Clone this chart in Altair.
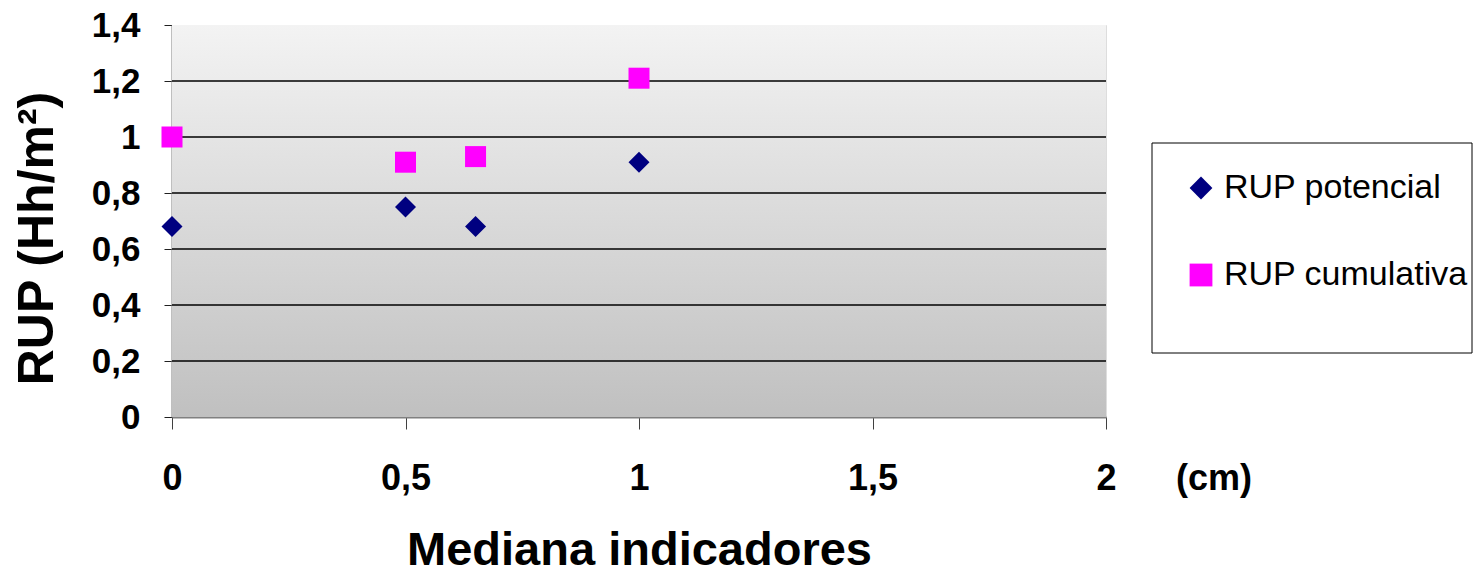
import altair as alt
import pandas as pd

# ---- data ----
x_vals = [0.0, 0.5, 0.65, 1.0]
rup_potencial = [0.68, 0.75, 0.68, 0.91]
rup_cumulativa = [1.00, 0.91, 0.93, 1.21]
series_names = ["RUP potencial", "RUP cumulativa"]
series_colors = ["#000080", "#ff00ff"]
series_shapes = ["diamond", "square"]
y_ticks = [0, 0.2, 0.4, 0.6, 0.8, 1.0, 1.2, 1.4]
x_ticks = [0, 0.5, 1.0, 1.5, 2.0]
grid_values = [0.2, 0.4, 0.6, 0.8, 1.0, 1.2]
x_title = "Mediana indicadores"
y_title = "RUP (Hh/m²)"
unit_label = "(cm)"

FONT = "Liberation Sans"
W, H = 934, 392

rows = []
for name, vals in zip(series_names, [rup_potencial, rup_cumulativa]):
    for xv, yv in zip(x_vals, vals):
        rows.append({"x": xv, "value": yv, "series": name})
df = pd.DataFrame(rows)

xscale = alt.Scale(domain=[0, 2], nice=False, zero=False)
yscale = alt.Scale(domain=[0, 1.4], nice=False)

comma_expr = "replace(toString(datum.value), '.', ',')"

xaxis = alt.Axis(
    values=x_ticks, labelExpr=comma_expr, grid=False, labelFlush=False,
    labelFont=FONT, labelFontSize=36, labelFontWeight="bold", labelColor="black",
    labelBaseline="alphabetic", labelPadding=60, tickSize=12, tickColor="#404040",
    domainColor="#808080", domainWidth=2,
    title=x_title, titleFont=FONT, titleFontSize=47, titleFontWeight="bold",
    titleColor="black", titleBaseline="alphabetic", titleY=147, titleX=W / 2,
)
yaxis = alt.Axis(
    values=y_ticks, labelExpr=comma_expr, grid=False, labelFlush=False,
    labelFont=FONT, labelFontSize=35, labelFontWeight="bold", labelColor="black",
    labelPadding=24, tickSize=8, tickColor="#202020",
    domainColor="#808080", domainWidth=2,
    title=y_title, titleFont=FONT, titleFontSize=50, titleFontWeight="bold",
    titleColor="black", titleBaseline="alphabetic", titleX=-120, titleY=213,
    titleAngle=270,
)

gradient = alt.LinearGradient(
    gradient="linear",
    stops=[alt.GradientStop(offset=0, color="#f3f3f3"),
           alt.GradientStop(offset=1, color="#c0c0c0")],
    x1=0, x2=0, y1=0, y2=1,
)

one = pd.DataFrame({"a": [0]})

bg = alt.Chart(one).mark_rect(color=gradient).encode(
    x=alt.value(0), x2=alt.value(W), y=alt.value(0), y2=alt.value(H)
)

grid = alt.Chart(pd.DataFrame({"g": grid_values})).mark_rule(
    color="black", strokeWidth=1.5
).encode(y=alt.Y("g:Q", scale=yscale, axis=yaxis, title=y_title))

legend = alt.Legend(
    title=None, orient="none", legendX=1012, legendY=146,
    labelFont=FONT, labelFontSize=34, labelColor="black", labelOffset=6,
    symbolSize=520, symbolStrokeWidth=0, rowPadding=53, padding=0,
    labelLimit=400,
)

points = alt.Chart(df).mark_point(filled=True, size=441, opacity=1).encode(
    x=alt.X("x:Q", scale=xscale, axis=xaxis, title=x_title),
    y=alt.Y("value:Q", scale=yscale, axis=yaxis, title=y_title),
    color=alt.Color("series:N", scale=alt.Scale(domain=series_names, range=series_colors), legend=legend),
    shape=alt.Shape("series:N", scale=alt.Scale(domain=series_names, range=series_shapes), legend=legend),
)

unit = alt.Chart(one).mark_text(
    text=unit_label, font=FONT, fontSize=36, fontWeight="bold", color="black",
    align="center", baseline="alphabetic",
).encode(x=alt.value(1042), y=alt.value(465))

frame = alt.Chart(one).mark_rect(filled=False, stroke="black", strokeWidth=1).encode(
    x=alt.value(980), x2=alt.value(1300), y=alt.value(118), y2=alt.value(328)
)

chart = alt.layer(bg, grid, points, unit, frame).properties(
    width=W, height=H,
    autosize=alt.AutoSizeParams(type="none"),
    padding={"left": 164, "top": 17, "right": 367, "bottom": 153},
).configure_view(strokeWidth=0).configure(background="white")

chart.save("out.html", embed_options={"renderer": "svg", "actions": False})
